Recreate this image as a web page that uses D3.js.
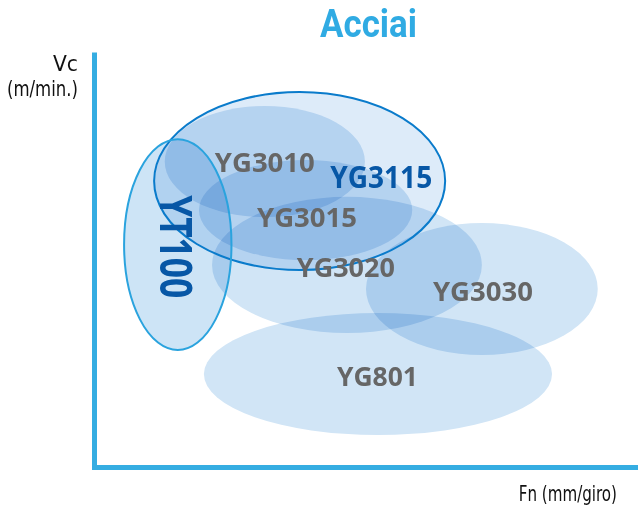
<!DOCTYPE html>
<html>
<head>
<meta charset="utf-8">
<script src="https://cdn.jsdelivr.net/npm/d3@7"></script>
<style>
  html, body { margin: 0; padding: 0; background: #ffffff; }
  svg { display: block; }
  .ell { mix-blend-mode: multiply; }
</style>
</head>
<body>
<svg id="chart" width="638" height="513"></svg>
<script>
// ---- data (abstract units, 0–100 on both axes) ----
const names   = ["YG801", "YG3030", "YG3020", "YG3015", "YG3010", "YG3115", "YT100"];
const centerX = [52.2, 71.3, 46.5, 38.9, 31.4, 37.8, 15.4];
const centerY = [22.4, 42.9, 48.7, 61.9, 73.6, 68.9, 53.6];
const radiusX = [32.0, 21.3, 24.8, 19.6, 18.4, 26.75, 9.87];
const radiusY = [14.7, 15.9, 16.4, 12.05, 13.4, 21.45, 25.4];
const labelX  = [52.1, 71.5, 46.3, 39.15, 31.4, 52.8, 15.1];
const labelY  = [21.9, 42.4, 48.1, 60.2, 73.4, 69.9, 53.1];
const outlined = ["YG3115", "YT100"];
const highlight = ["YG3115", "YT100"];

const titleText = "Acciai";
const yLabelLines = ["Vc", "(m/min.)"];
const xLabelText = "Fn (mm/giro)";

// ---- layout ----
const svg = d3.select("#chart");
const x = d3.scaleLinear().domain([0, 100]).range([94, 638]);
const y = d3.scaleLinear().domain([0, 100]).range([467, 52]);
const kx = x(1) - x(0), ky = y(0) - y(1);

const rows = names.map((n, i) => ({
  name: n, cx: centerX[i], cy: centerY[i], rx: radiusX[i], ry: radiusY[i],
  lx: labelX[i], ly: labelY[i]
}));

const fills = {
  "YG3115": "#ddebf9",
  "YT100": "#cde4f6"
};
const strokes = { "YG3115": "#0a7bcb", "YT100": "#2aa3de" };

// fills (multiply blending)
svg.append("g").selectAll("ellipse.ell").data(rows).join("ellipse")
  .attr("class", "ell")
  .attr("cx", d => x(d.cx)).attr("cy", d => y(d.cy))
  .attr("rx", d => d.rx * kx).attr("ry", d => d.ry * ky)
  .attr("fill", d => fills[d.name] || "#d1e5f6");

// outlines
svg.append("g").selectAll("ellipse").data(rows.filter(d => outlined.includes(d.name))).join("ellipse")
  .attr("cx", d => x(d.cx)).attr("cy", d => y(d.cy))
  .attr("rx", d => d.rx * kx).attr("ry", d => d.ry * ky)
  .attr("fill", "none")
  .attr("stroke", d => strokes[d.name])
  .attr("stroke-width", 2);

// axes
svg.append("g").attr("transform", "translate(94,0)")
  .call(d3.axisLeft(y).ticks(0).tickSize(0).tickSizeOuter(0))
  .call(g => g.select(".domain").attr("stroke", "#35ade2").attr("stroke-width", 5))
  .call(g => g.selectAll(".tick").remove());
svg.append("g").attr("transform", "translate(0,467)")
  .call(d3.axisBottom(x).ticks(0).tickSize(0).tickSizeOuter(0))
  .call(g => g.select(".domain").attr("stroke", "#35ade2").attr("stroke-width", 5).attr("stroke-linecap", "square"))
  .call(g => g.selectAll(".tick").remove());

// labels
const labelSpec = {
  "YG801":  { size: 27, len: 81 },
  "YG3030": { size: 27, len: 100 },
  "YG3020": { size: 27, len: 98 },
  "YG3015": { size: 27, len: 100 },
  "YG3010": { size: 26, len: 100 },
  "YG3115": { size: 30.5, len: 102 },
  "YT100":  { size: 44, len: 103 }
};
const lg = svg.append("g").attr("font-family", "'Open Sans', 'DejaVu Sans', sans-serif").attr("font-weight", 700);
rows.forEach(d => {
  const s = labelSpec[d.name];
  const cap = s.size * 0.714;
  const t = lg.append("text")
    .attr("text-anchor", "middle")
    .attr("font-size", s.size)
    .attr("textLength", s.len)
    .attr("lengthAdjust", "spacingAndGlyphs")
    .attr("fill", highlight.includes(d.name) ? "#0757a6" : "#666666")
    .text(d.name);
  if (d.name === "YT100") {
    t.attr("x", 0).attr("y", cap / 2)
     .attr("transform", `translate(${x(d.lx)},${y(d.ly)}) rotate(90)`);
  } else {
    t.attr("x", x(d.lx)).attr("y", y(d.ly) + cap / 2);
  }
});

// title
svg.append("text")
  .attr("x", 368.5).attr("y", 36.5)
  .attr("text-anchor", "middle")
  .attr("font-family", "Roboto, 'Open Sans', sans-serif")
  .attr("font-weight", 700)
  .attr("font-size", 39)
  .attr("textLength", 97)
  .attr("lengthAdjust", "spacingAndGlyphs")
  .attr("fill", "#30abe3")
  .text(titleText);

// axis titles
const axFont = "'DejaVu Sans Condensed', 'Liberation Sans Narrow', Roboto, sans-serif";
const yLab = svg.append("g").attr("font-family", axFont).attr("font-size", 21).attr("fill", "#111");
yLab.append("text").attr("x", 78).attr("y", 71).attr("text-anchor", "end")
  .attr("textLength", 25).attr("lengthAdjust", "spacingAndGlyphs").text(yLabelLines[0]);
yLab.append("text").attr("x", 78).attr("y", 96).attr("text-anchor", "end")
  .attr("textLength", 71).attr("lengthAdjust", "spacingAndGlyphs").text(yLabelLines[1]);
svg.append("text")
  .attr("x", 0).attr("y", 0).attr("text-anchor", "end")
  .attr("transform", "translate(617,501) scale(0.8,1)")
  .attr("font-family", axFont).attr("font-size", 21).attr("fill", "#111")
  .text(xLabelText);
</script>
</body>
</html>
